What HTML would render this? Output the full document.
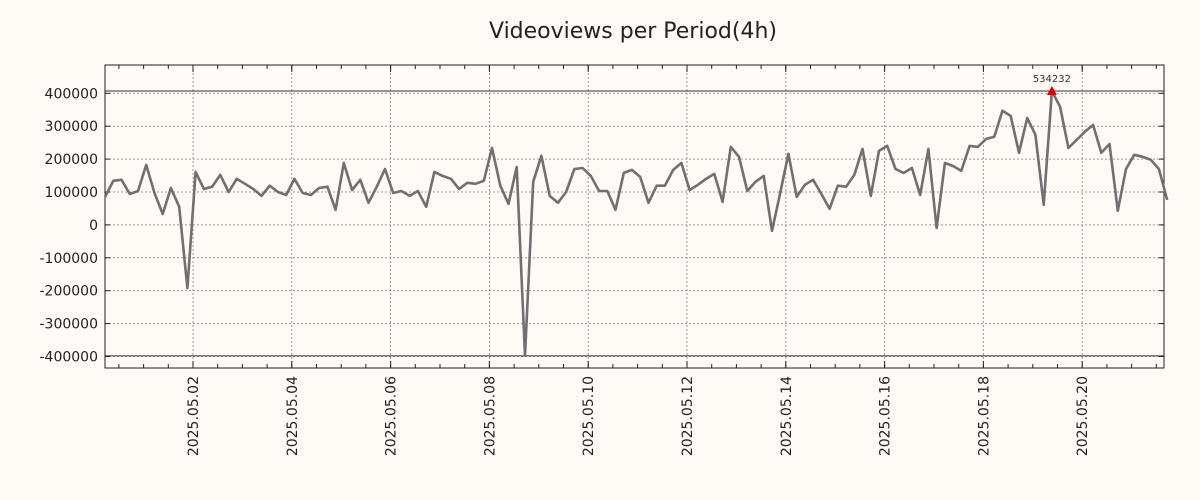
<!DOCTYPE html>
<html><head><meta charset="utf-8"><style>
body{margin:0;background:#fffaf6;}
svg{display:block;font-family:"DejaVu Sans","Liberation Sans",sans-serif;}
</style></head><body>
<svg id="chart" width="1200" height="500"></svg>
<script>
const values=[85,134,137,94,103,182,97,33,112,55,-192,161,109,116,152,100,140,125,109,88,119,100,91,140,97,91,112,116,46,188,106,137,67,116,170,97,103,88,103,55,161,149,140,109,128,125,134,234,119,64,176,-398,131,210,88,67,100,170,173,149,103,103,46,158,167,146,67,119,119,167,188,106,122,140,155,70,237,207,103,131,149,-18,97,216,85,122,137,94,49,119,116,152,231,88,225,240,170,158,173,91,231,-9,188,179,164,240,237,261,268,347,331,219,325,274,61,407,359,234,258,283,304,219,246,43,170,213,207,198,170,76].map(v=>v*1000);
const yTicks=[400000,300000,200000,100000,0,-100000,-200000,-300000,-400000];
const xTickLabels=["2025.05.02","2025.05.04","2025.05.06","2025.05.08","2025.05.10","2025.05.12","2025.05.14","2025.05.16","2025.05.18","2025.05.20"];
const peakLabel="534232";
const startDay=-1.78, stepDays=4/24; // days relative to 2025.05.02 00:00

const NS="http://www.w3.org/2000/svg";
const svg=document.getElementById('chart');
const L=105,R=1164,T=65,B=368;
const yMax=486000,yMin=-435000;
const dayPx=49.4, x0=193;
const X=d=>x0+d*dayPx;
const Y=v=>T+(yMax-v)/(yMax-yMin)*(B-T);
function mk(t,a,p){const e=document.createElementNS(NS,t);for(const k in a)e.setAttribute(k,a[k]);(p||svg).appendChild(e);return e;}

const title=mk('text',{x:633,y:38,'text-anchor':'middle','font-size':22,fill:'#222'});
title.textContent='Videoviews per Period(4h)';



const grid=mk('g',{});


yTicks.forEach(v=>{
  const y=Y(v);
  mk('line',{x1:L,x2:R,y1:y,y2:y,stroke:'#999','stroke-dasharray':'2,2','stroke-width':1},grid);
  mk('line',{x1:L,x2:L+5,y1:y,y2:y,stroke:'#222'},grid);
  mk('line',{x1:R,x2:R-5,y1:y,y2:y,stroke:'#222'},grid);
  const t=mk('text',{x:L-7,y:y+5,'text-anchor':'end','font-size':14,fill:'#222'});
  t.textContent=String(v);
  
  
});
for(let h=-1.5;h<=20;h+=0.5){
  const x=X(h); if(x<L||x>R)continue;
  mk('line',{x1:x,x2:x,y1:B,y2:B-4,stroke:'#222'},grid);
  mk('line',{x1:x,x2:x,y1:T,y2:T+4,stroke:'#222'},grid);
}
xTickLabels.forEach((lab,i)=>{
  const x=X(i*2);
  mk('line',{x1:x,x2:x,y1:T,y2:B,stroke:'#999','stroke-dasharray':'2,2'},grid);
  mk('line',{x1:x,x2:x,y1:B,y2:B-7,stroke:'#222'},grid);
  mk('line',{x1:x,x2:x,y1:T,y2:T+7,stroke:'#222'},grid);
  const t=mk('text',{x:0,y:0,'text-anchor':'end','font-size':14,fill:'#222',transform:`translate(${x+5},${B+8}) rotate(-90)`});
  t.textContent=lab;
  
  
});
const mx=Math.max(...values),mn=Math.min(...values);
[mx,mn].forEach(v=>{const l=mk('line',{x1:L,x2:R,y1:Y(v),y2:Y(v),stroke:'#333','stroke-width':1});
  
  });

const frame=mk('rect',{x:L,y:T,width:R-L,height:B-T,fill:'none',stroke:'#222','stroke-width':1});



const pts=values.map((v,i)=>`${X(startDay+i*stepDays).toFixed(1)},${Y(v).toFixed(1)}`).join(' ');
const line=mk('polyline',{points:pts,fill:'none',stroke:'#707070','stroke-width':2.6,'stroke-linejoin':'round'});



const pi=values.indexOf(mx),px=X(startDay+pi*stepDays),py=Y(mx);
const mark=mk('polygon',{points:`${px-5},${py+4} ${px+5},${py+4} ${px},${py-5}`,fill:'#e00000'});


const pl=mk('text',{x:px,y:py-9,'text-anchor':'middle','font-size':10,fill:'#333'});
pl.textContent=peakLabel;


</script>
</body></html>
